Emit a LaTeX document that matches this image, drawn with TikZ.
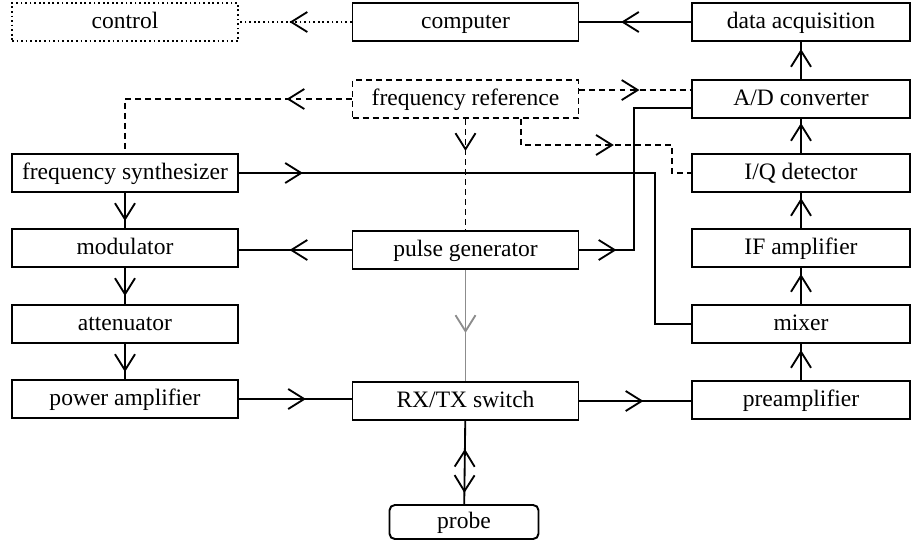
\documentclass[tikz,border=0pt]{standalone}
\usepackage{fontspec}
\setmainfont{Liberation Serif}
\usetikzlibrary{arrows.meta,decorations.markings,calc}

\tikzset{
  chev/.tip={Straight Barb[length=3.2mm,width=4mm]},
  blk/.style={draw, line width=1.1pt, minimum width=4.52cm, minimum height=0.76cm,
    inner sep=0pt, text height=0.9em, text depth=0.15em,
    font=\fontsize{13.4}{15}\selectfont},
  rblk/.style={blk, minimum width=4.36cm},
  sig/.style={line width=1.05pt, postaction={decorate},
    decoration={markings, mark=at position #1 with {\arrow{chev}}}},
  ref/.style={sig=#1, dash pattern=on 3.4pt off 2.3pt},
  ctl/.style={sig=#1, dash pattern=on 1pt off 1.6pt},
}

\begin{document}
\begin{tikzpicture}[x=0.02cm, y=-0.02cm]
\useasboundingbox (0,0) rectangle (912,542);

% blocks
\node[blk, dash pattern=on 1pt off 1.6pt] (ctl) at (125,22) {control};
\node[blk] (comp) at (465.5,22) {computer};
\node[rblk] (daq) at (801,22) {data acquisition};
\node[blk, dash pattern=on 3.4pt off 2.3pt] (fref) at (465.5,99) {frequency reference};
\node[rblk] (adc) at (801,99) {A/D converter};
\node[blk] (synth) at (125,173) {frequency synthesizer};
\node[rblk] (iq) at (801,173) {I/Q detector};
\node[blk] (mod) at (125,248) {modulator};
\node[blk] (pulse) at (465.5,250) {pulse generator};
\node[rblk] (ifamp) at (801,248) {IF amplifier};
\node[blk] (att) at (125,324) {attenuator};
\node[rblk] (mix) at (801,324) {mixer};
\node[blk] (pamp) at (125,399) {power amplifier};
\node[blk] (rxtx) at (465.5,401) {RX/TX switch};
\node[rblk] (pre) at (801,400) {preamplifier};
\node[blk, rounded corners=3pt, minimum width=2.98cm, minimum height=0.68cm] (probe) at (464,522) {probe};

% signal chain
\foreach \a/\b in {synth/mod, mod/att, att/pamp}
  \draw[sig=0.56cm] (\a) -- (\b);
\foreach \a/\b in {pre/mix, mix/ifamp, ifamp/iq, iq/adc, adc/daq}
  \draw[sig=0.6cm] (\a) -- (\b);
\draw[sig=1.4cm] (daq) -- (comp);
\draw[ctl=1.24cm] (comp) -- (ctl);
\draw[sig=1.34cm] (pamp.east) -- (pamp.east -| rxtx.west);
\draw[sig=1.28cm] (rxtx.east) -- (rxtx.east -| pre.west);
\draw[sig=1.24cm] (pulse.west) -- (pulse.west -| mod.east);
\draw[sig=1.26cm, black!45] (pulse) -- (rxtx);
\draw[line width=1.05pt, postaction={decorate}, decoration={markings,
    mark=at position 1.44cm with {\arrow{chev}},
    mark=at position 0.56cm with {\arrowreversed{chev}}}] (rxtx) -- (probe);

% local oscillator and trigger
\coordinate (adin) at ([yshift=-5.1pt]adc.west);
\draw[sig=1.28cm] (synth.east) -| (655,324) -- (mix.west);
\draw[sig=0.74cm] (pulse.east) -| ($(adin)+(-57,0)$) -- (adin);

% reference clock
\draw[ref=1.3cm] (fref.west) -| (synth.north);
\draw[ref=1.2cm] ([yshift=5.1pt]fref.east) -- ([yshift=5.1pt]adc.west);
\draw[ref=0.64cm] (fref) -- (pulse);
\draw[ref=2.38cm] ([xshift=31.5pt]fref.south) |- (672,145) |- (iq.west);
\end{tikzpicture}
\end{document}
